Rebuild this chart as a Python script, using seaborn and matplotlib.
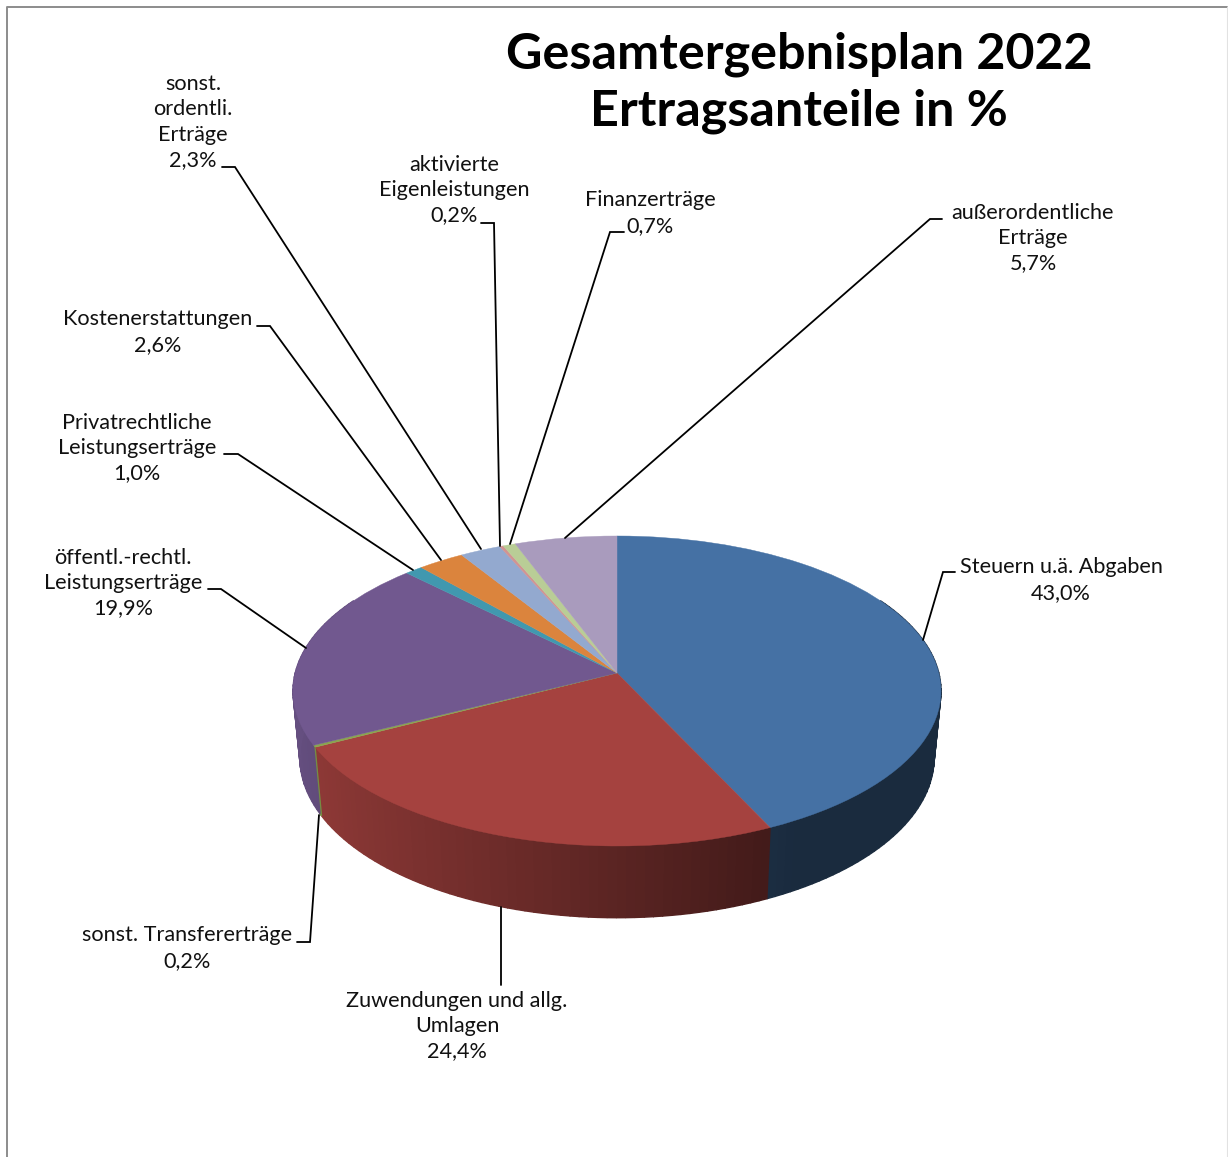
import numpy as np
import matplotlib
matplotlib.use("Agg")
import matplotlib.pyplot as plt
import seaborn as sns
from matplotlib.transforms import Transform
from matplotlib.colors import to_rgb

# ---- data ----
categories = ["Steuern u.ä. Abgaben", "Zuwendungen und allg.\nUmlagen", "sonst. Transfererträge",
              "öffentl.-rechtl.\nLeistungserträge", "Privatrechtliche\nLeistungserträge",
              "Kostenerstattungen", "sonst.\nordentli.\nErträge", "aktivierte\nEigenleistungen",
              "Finanzerträge", "außerordentliche\nErträge"]
shares = [43.0, 24.4, 0.2, 19.9, 1.0, 2.6, 2.3, 0.2, 0.7, 5.7]
title_lines = ["Gesamtergebnisplan 2022", "Ertragsanteile in %"]
colors = ["#4571A4", "#A5423F", "#89A54E", "#71588F", "#4198AF",
          "#DB843D", "#93A9CF", "#D19392", "#B9CD96", "#A99BBD"]

# ---- layout (pixels) ----
W, H = 1228, 1157
label_pos = [(1061, 580), (457, 1026), (187, 948), (123, 583), (137, 448),
             (158, 332), (193, 122), (454, 190), (650, 213), (1033, 238)]
leaders = [[(955, 572), (943, 572), (923, 640)],
           [(501, 985), (501, 907)],
           [(297, 942), (310, 942), (319, 815)],
           [(208, 589), (221, 589), (306, 648)],
           [(224, 454), (238, 454), (413, 570)],
           [(257, 326), (270, 326), (441, 560)],
           [(222, 167), (235, 167), (481, 549)],
           [(481, 223), (494, 223), (500, 546)],
           [(624, 232), (610, 232), (510, 544)],
           [(942, 219), (930, 219), (565, 538)]]
TOP = dict(cx=617, cy=673, A=321.8, p=152.9, k=0.116)
BOT = dict(cx=617, cy=739, A=315.0, p=158.0, k=0.116)

sns.set_theme(style="white")
plt.rcParams["font.family"] = ["Lato", "DejaVu Sans"]
palette = sns.color_palette(colors)


class Persp(Transform):
    input_dims = output_dims = 2

    def __init__(self, cx, cy, A, p, k):
        super().__init__()
        self.cx, self.cy, self.A, self.p, self.k = cx, cy, A, p, k

    def transform_non_affine(self, values):
        u, v = np.asarray(values).T
        d = 1 + self.k * v
        return np.column_stack([self.cx + self.A * u / d, self.cy - self.p * v / d])


fig = plt.figure(figsize=(W / 100, H / 100), dpi=100, facecolor="white")
ax = fig.add_axes([0, 0, 1, 1])

wedges, _ = ax.pie(shares, colors=palette, startangle=90, counterclock=False,
                   wedgeprops=dict(linewidth=0.3))
ax.set_aspect("auto")
ax.set_xlim(0, W)
ax.set_ylim(H, 0)
ax.set_axis_off()

top = Persp(**TOP)
bot = Persp(**BOT)
for w, col in zip(wedges, palette):
    w.set_edgecolor(col)
    w.set_transform(top + ax.transData)
    w.set_zorder(3)

# side wall, derived from the shares
edges = np.concatenate([[0], np.cumsum(shares)]) / sum(shares) * 360
for i, col in enumerate(palette):
    a0, a1 = max(edges[i], 60), min(edges[i + 1], 300)
    if a1 <= a0:
        continue
    n = max(1, int(np.ceil((a1 - a0) / 1.5)))
    steps = np.radians(np.linspace(a0, a1, n + 1))
    for t0, t1 in zip(steps[:-1], steps[1:]):
        ts = np.array([t0, t1])
        uv = np.column_stack([np.sin(ts), np.cos(ts)])
        pts = np.vstack([top.transform(uv), bot.transform(uv)[::-1]])
        um = np.sin((t0 + t1) / 2)
        f = max(0.38, 0.86 - (um + 0.9) * 0.346)
        shade = tuple(c * f for c in to_rgb(col))
        ax.fill(pts[:, 0], pts[:, 1], color=shade, lw=1.0, zorder=2)

# leader lines
for seg in leaders:
    xs, ys = zip(*seg)
    ax.plot(xs, ys, color="black", lw=1.3, zorder=4, solid_joinstyle="miter")

# labels
for name, val, (x, y) in zip(categories, shares, label_pos):
    txt = name + "\n" + f"{val:.1f}".replace(".", ",") + "%"
    ax.text(x, y, txt, ha="center", va="center", fontsize=15.6, color="#111111",
            linespacing=1.34, zorder=5)

ax.text(799, 83, "\n".join(title_lines), ha="center", va="center", fontsize=36.2,
        fontweight="bold", color="black", linespacing=1.32, zorder=5)

# chart frame
ax.plot([7, 7, 1227], [H, 7, 7], color="#8c8c8c", lw=1.4, zorder=1, clip_on=False)
ax.plot([1227, 1227], [7, H], color="#e2e2e2", lw=0.8, zorder=1)

fig.savefig("out.png", dpi=100)
